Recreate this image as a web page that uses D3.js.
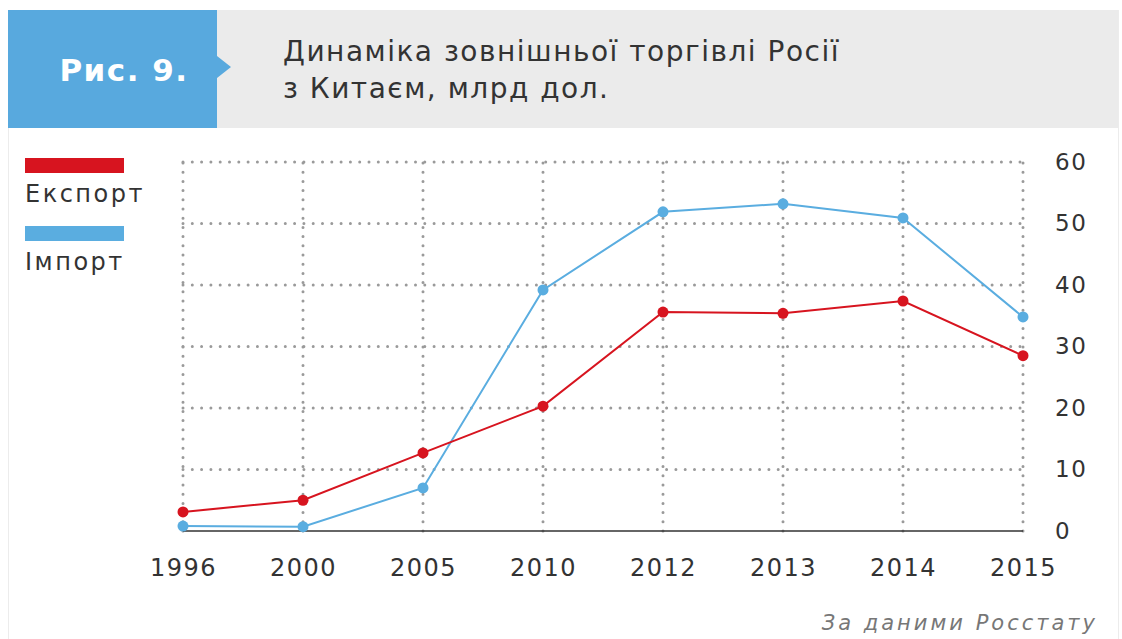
<!DOCTYPE html>
<html>
<head>
<meta charset="utf-8">
<script src="https://cdn.jsdelivr.net/npm/d3@7"></script>
<style>
  body { margin: 0; background: #fff; }
  svg { font-family: "DejaVu Sans", sans-serif; }
</style>
</head>
<body>
<div id="chart"></div>
<script>
// Data
const years = ["1996", "2000", "2005", "2010", "2012", "2013", "2014", "2015"];
const exportValues = [3.1, 5.0, 12.7, 20.3, 35.6, 35.4, 37.4, 28.5];
const importValues = [0.8, 0.7, 7.0, 39.2, 51.9, 53.2, 50.9, 34.8];
const yTicks = [0, 10, 20, 30, 40, 50, 60];

const width = 1122,
    height = 639;

const margin = {
    top: 162,
    bottom: 108,
    left: 183,
    right: 99
};

const red = "#d7141f";
const blue = "#5aade0";

const svg = d3.select("#chart")
    .append("svg")
    .attr("width", width)
    .attr("height", height);

// card border
svg.append("rect")
    .attr("x", 8.5).attr("y", 10.5)
    .attr("width", 1110).attr("height", 640)
    .attr("fill", "#fff")
    .attr("stroke", "#ececec");

// header band
svg.append("rect")
    .attr("x", 8).attr("y", 10)
    .attr("width", 1110).attr("height", 118)
    .attr("fill", "#ebebeb");

svg.append("path")
    .attr("d", "M8,10 H217 V56 L231,67 L217,78 V128 H8 Z")
    .attr("fill", "#58a9de");

svg.append("text")
    .attr("x", 124).attr("y", 81)
    .attr("text-anchor", "middle")
    .attr("fill", "#fff")
    .style("font-size", "31px")
    .style("font-weight", "bold")
    .style("letter-spacing", "1.5px")
    .text("Рис. 9.");

const title = svg.append("text")
    .attr("fill", "#333")
    .style("font-size", "28px")
    .style("letter-spacing", "1.5px");
title.append("tspan").attr("x", 283).attr("y", 61).text("Динаміка зовнішньої торгівлі Росії");
title.append("tspan").attr("x", 283).attr("y", 98).text("з Китаєм, млрд дол.");

// Scales
const xScale = d3.scalePoint()
    .domain(years)
    .range([margin.left, width - margin.right]);

const yScale = d3.scaleLinear()
    .domain([0, 60])
    .range([height - margin.bottom, margin.top]);

// dotted grid
svg.append("g")
    .selectAll("line")
    .data(yTicks.slice(1))
    .enter().append("line")
    .attr("x1", margin.left)
    .attr("x2", width - margin.right)
    .attr("y1", d => yScale(d))
    .attr("y2", d => yScale(d))
    .attr("stroke", "#9a9a9a")
    .attr("stroke-width", 3)
    .attr("stroke-linecap", "round")
    .attr("stroke-dasharray", "0,9.3");

svg.append("g")
    .selectAll("line")
    .data(years)
    .enter().append("line")
    .attr("x1", d => xScale(d))
    .attr("x2", d => xScale(d))
    .attr("y1", yScale(0))
    .attr("y2", yScale(60))
    .attr("stroke", "#9a9a9a")
    .attr("stroke-width", 3)
    .attr("stroke-linecap", "round")
    .attr("stroke-dasharray", "0,9.2");

// zero baseline
svg.append("line")
    .attr("x1", margin.left)
    .attr("x2", width - margin.right)
    .attr("y1", yScale(0))
    .attr("y2", yScale(0))
    .attr("stroke", "#333")
    .attr("stroke-width", 1.5);

// Axes
const yAxis = svg.append("g")
    .attr("transform", `translate(${width - margin.right + 32}, 0)`)
    .call(d3.axisRight(yScale).tickValues(yTicks).tickSize(0).tickPadding(0));
yAxis.select(".domain").remove();
yAxis.selectAll("text")
    .attr("fill", "#333")
    .style("font-size", "23px")
    .style("font-family", "DejaVu Sans")
    .style("letter-spacing", "1.5px");

const xAxis = svg.append("g")
    .attr("transform", `translate(0, ${height - margin.bottom})`)
    .call(d3.axisBottom(xScale).tickSize(0).tickPadding(28));
xAxis.select(".domain").remove();
xAxis.selectAll("text")
    .attr("fill", "#333")
    .style("font-size", "24px")
    .style("font-family", "DejaVu Sans")
    .style("letter-spacing", "1.5px");

// Lines
const series = [
    {name: "Імпорт", values: importValues, color: blue},
    {name: "Експорт", values: exportValues, color: red}
];

const line = d3.line()
    .x((d, i) => xScale(years[i]))
    .y(d => yScale(d));

series.forEach(s => {
    svg.append("path")
        .datum(s.values)
        .attr("fill", "none")
        .attr("stroke", s.color)
        .attr("stroke-width", 2)
        .attr("d", line);

    svg.append("g")
        .selectAll("circle")
        .data(s.values)
        .enter().append("circle")
        .attr("cx", (d, i) => xScale(years[i]))
        .attr("cy", d => yScale(d))
        .attr("r", 5.5)
        .attr("fill", s.color);
});

// Legend
const legendData = [
    {label: "Експорт", color: red},
    {label: "Імпорт", color: blue}
];

const legend = svg.selectAll(".legend")
    .data(legendData)
    .enter().append("g")
    .attr("class", "legend")
    .attr("transform", (d, i) => "translate(25," + (158 + i * 68) + ")");

legend.append("rect")
    .attr("width", 99)
    .attr("height", 15)
    .attr("fill", d => d.color);

legend.append("text")
    .attr("y", 44)
    .attr("fill", "#333")
    .style("font-size", "24px")
    .style("letter-spacing", "2.5px")
    .text(d => d.label);

// Source
svg.append("text")
    .attr("x", 1098).attr("y", 630)
    .attr("text-anchor", "end")
    .attr("fill", "#777")
    .style("font-size", "21px")
    .style("font-style", "italic")
    .style("letter-spacing", "3px")
    .text("За даними Росстату");
</script>
</body>
</html>
